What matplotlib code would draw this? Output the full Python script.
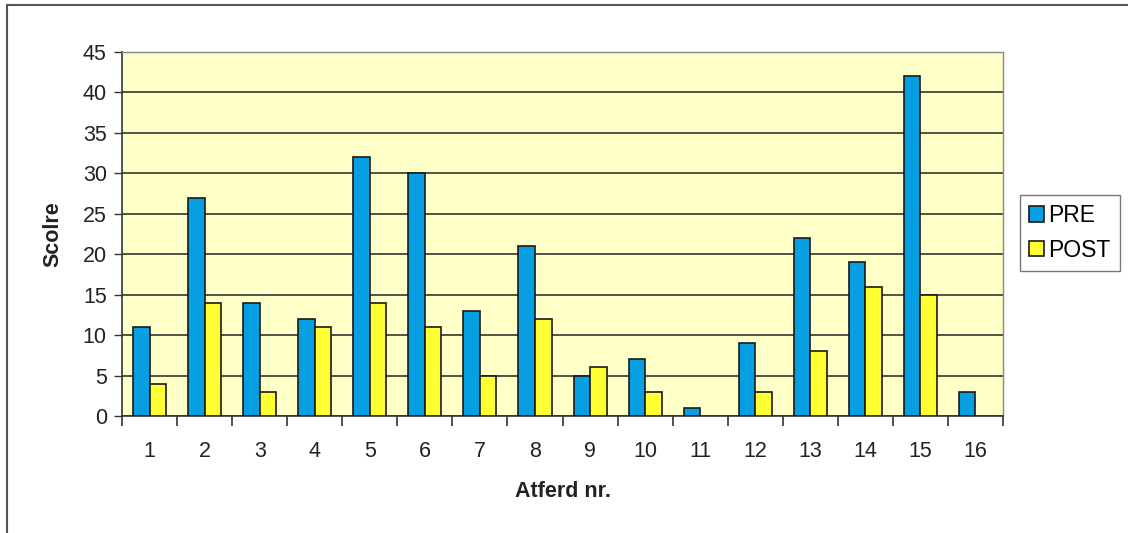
import numpy as np
import matplotlib
matplotlib.use("Agg")
import matplotlib.pyplot as plt
from matplotlib.patches import Rectangle

# data
categories = [str(i) for i in range(1, 17)]
pre_values = [11, 27, 14, 12, 32, 30, 13, 21, 5, 7, 1, 9, 22, 19, 42, 3]
post_values = [4, 14, 3, 11, 14, 11, 5, 12, 6, 3, 0, 3, 8, 16, 15, 0]

plt.rcParams['font.family'] = ['Liberation Sans', 'DejaVu Sans']

fig = plt.figure(figsize=(11.28, 5.33), dpi=100)
ax = fig.add_axes([0.1082, 0.2195, 0.781, 0.683])

x = np.arange(len(categories))
w = 0.3
# zero-height bars get no outline
pre_lw = [1.2 if v > 0 else 0 for v in pre_values]
post_lw = [1.2 if v > 0 else 0 for v in post_values]
ax.bar(x - w / 2, pre_values, w, color='#06a0e2', edgecolor='#1a1a1a', linewidth=pre_lw, label='PRE', zorder=3)
ax.bar(x + w / 2, post_values, w, color='#ffff33', edgecolor='#1a1a1a', linewidth=post_lw, label='POST', zorder=3)

ax.set_facecolor('#ffffc8')
ax.set_xlim(-0.5, len(categories) - 0.5)
ax.set_ylim(0, 45)
ax.set_yticks(range(0, 46, 5))
ax.yaxis.grid(True, color='#333333', linewidth=1.2, zorder=1)
ax.tick_params(axis='y', labelsize=15.5, length=6, width=1, color='#333333', pad=5, labelcolor='#222222')

# ticks between categories, labels centered
ax.set_xticks(np.arange(-0.5, len(categories), 1.0))
ax.set_xticklabels([])
ax.set_xticks(x, minor=True)
ax.set_xticklabels(categories, minor=True, fontsize=15.5, color='#222222')
ax.tick_params(axis='x', which='major', length=7, width=1.2, color='#333333', direction='out')
ax.tick_params(axis='x', which='minor', length=0, pad=18)

for s in ['left', 'bottom']:
    ax.spines[s].set_color('#333333')
    ax.spines[s].set_linewidth(1.2)
for s in ['top', 'right']:
    ax.spines[s].set_color('#888888')
    ax.spines[s].set_linewidth(1)

ax.set_xlabel('Atferd nr.', fontsize=15.5, fontweight='bold', labelpad=14, color='#222222')
ax.set_ylabel('Scolre', fontsize=15.5, fontweight='bold', labelpad=14, color='#222222')

leg = ax.legend(loc='center left', bbox_to_anchor=(1.019, 0.503), fontsize=16.5,
                frameon=True, fancybox=False, edgecolor='#555555', borderaxespad=0,
                handlelength=0.65, handleheight=0.65, handletextpad=0.2,
                borderpad=0.4, labelspacing=0.5)
leg.get_frame().set_linewidth(1)

# outer frame
fig.patches.append(Rectangle((0.006, -0.05), 1.05, 1.04, transform=fig.transFigure,
                             fill=False, edgecolor='#555555', linewidth=1.5))

fig.savefig('out.png', dpi=100)
